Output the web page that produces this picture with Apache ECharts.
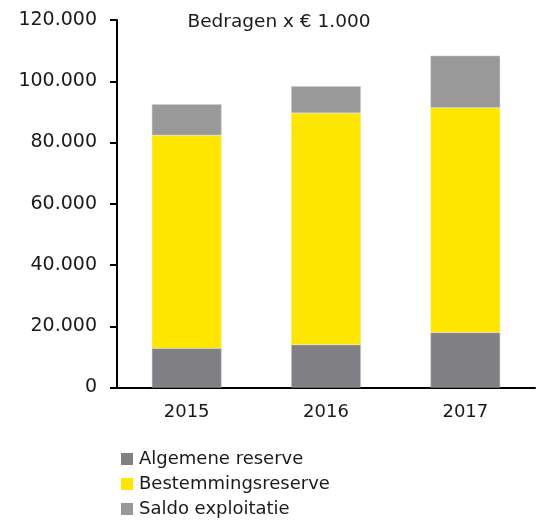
<!DOCTYPE html>
<html lang="nl">
<head>
    <meta charset="UTF-8">
    <title>Reserves</title>
    <script src="https://cdn.jsdelivr.net/npm/echarts@6/dist/echarts.min.js"></script>
</head>
<body style="margin:0;background:#fff">
<div id="chart" style="width:544px;height:520px"></div>
<script>
    var jaren = ['2015', '2016', '2017'];
    var algemeneReserve = [12800, 14000, 18000];
    var bestemmingsreserve = [69550, 75600, 73350];
    var saldoExploitatie = [10150, 8750, 17000];

    function metPunt(v) {
        return String(v).replace(/\B(?=(\d{3})+(?!\d))/g, '.');
    }

    var chart = echarts.init(document.getElementById('chart'));
    var font = 'DejaVu Sans';

    var option = {
        animation: false,
        title: {
            text: 'Bedragen x € 1.000',
            left: 274,
            textAlign: 'center',
            top: 8,
            textStyle: { fontFamily: font, fontSize: 18.5, fontWeight: 'normal', color: '#1a1a1a' }
        },
        legend: {
            orient: 'vertical',
            left: 121,
            top: 450,
            height: 80,
            padding: 0,
            itemWidth: 12,
            itemHeight: 12,
            itemGap: 7,
            icon: 'rect',
            itemStyle: { borderWidth: 0 },
            textStyle: { fontFamily: font, fontSize: 18, color: '#1a1a1a', lineHeight: 18, padding: [0, 0, 0, 1] },
            data: ['Algemene reserve', 'Bestemmingsreserve', 'Saldo exploitatie']
        },
        grid: { left: 117, right: 9, top: 20, bottom: 132.5 },
        xAxis: {
            type: 'category',
            data: jaren,
            axisLine: { lineStyle: { color: '#000', width: 2 } },
            axisTick: { length: 7, lineStyle: { color: '#000', width: 2 } },
            axisLabel: { fontFamily: font, fontSize: 18, color: '#1a1a1a', margin: 16 }
        },
        yAxis: {
            type: 'value',
            min: 0,
            max: 120000,
            interval: 20000,
            splitLine: { show: false },
            axisLine: { show: true, lineStyle: { color: '#000', width: 2 } },
            axisTick: { show: true, length: 7, lineStyle: { color: '#000', width: 2 } },
            axisLabel: {
                fontFamily: font, fontSize: 19, color: '#1a1a1a', margin: 20,
                formatter: function (v) { return metPunt(v); }
            }
        },
        series: [
            {
                name: 'Algemene reserve', type: 'bar', stack: 'totaal', barWidth: '50%',
                itemStyle: { color: '#808084', borderColor: '#c8c8c8', borderWidth: 0.5 },
                data: algemeneReserve
            },
            {
                name: 'Bestemmingsreserve', type: 'bar', stack: 'totaal',
                itemStyle: { color: '#ffe600', borderColor: '#f0e890', borderWidth: 0.5 },
                data: bestemmingsreserve
            },
            {
                name: 'Saldo exploitatie', type: 'bar', stack: 'totaal',
                itemStyle: { color: '#999999', borderColor: '#cccccc', borderWidth: 0.5 },
                data: saldoExploitatie
            }
        ]
    };
    chart.setOption(option);
</script>
</body>
</html>
